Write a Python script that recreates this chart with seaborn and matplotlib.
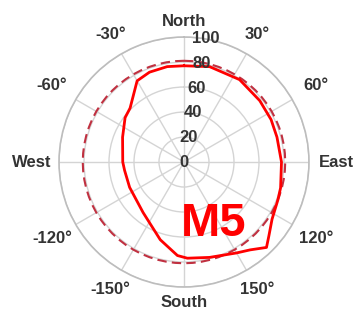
import numpy as np
import matplotlib
matplotlib.use("Agg")
import matplotlib.pyplot as plt
import seaborn as sns
import pandas as pd

# ---- data ----
angles_deg = [0, 15, 34, 51, 64, 75, 90, 105, 112, 123, 131, 136, 143, 150,
              165, 178, 184, 197, 219, 245, 262, 270, 292, 307, 315, 330,
              339, 350, 360]
radius = [77, 79, 79.5, 78, 77.5, 77, 78, 80, 81, 84, 90, 95, 88, 84,
          79, 77, 75, 65, 52, 48, 48, 49, 53, 59, 61, 75,
          77, 77.5, 77]
ref_angles_deg = list(range(0, 361, 5))
ref_radius = [81] * len(ref_angles_deg)

theta_ticks = [0, 30, 60, 90, 120, 150, 180, 210, 240, 270, 300, 330]
theta_labels = ["North", "30°", "60°", "East", "120°", "150°", "South",
                "-150°", "-120°", "West", "-60°", "-30°"]
r_ticks = [0, 20, 40, 60, 80, 100]
panel_label = "M5"

# ---- plot ----
sns.set_style("white")
plt.rcParams['font.family'] = ['Liberation Sans', 'DejaVu Sans']

fig = plt.figure(figsize=(3.6, 3.17), dpi=100)
ax = fig.add_axes([0.1639, 0.0946, 0.6944, 0.7886], projection='polar')
ax.set_theta_zero_location('N')
ax.set_theta_direction(-1)

df = pd.DataFrame({"theta": np.deg2rad(angles_deg), "r": radius})
dref = pd.DataFrame({"theta": np.deg2rad(ref_angles_deg), "r": ref_radius})

sns.lineplot(data=dref, x="theta", y="r", ax=ax, sort=False, color="#c03040",
             linewidth=1.5, linestyle=(0, (4.5, 2.5)))
sns.lineplot(data=df, x="theta", y="r", ax=ax, sort=False, color="#ff0000",
             linewidth=2.0)

ax.set_ylim(0, 100)
ax.set_xticks(np.deg2rad(theta_ticks))
ax.set_xticklabels([])
for t, lab in zip(theta_ticks, theta_labels):
    rr = 112.5 if t in (0, 180) else (117.5 if t in (30, 150, 210, 330) else 122)
    ax.text(np.deg2rad(t), rr, lab, ha='center', va='center', fontsize=12,
            fontweight='bold', color='#333333', clip_on=False)
ax.set_yticks(r_ticks)
ax.set_yticklabels([])
for rv in r_ticks:
    ax.text(np.deg2rad(10), rv, str(rv), ha='center', va='center', fontsize=12,
            fontweight='bold', color='#333333')
ax.set_xlabel("")
ax.set_ylabel("")
ax.grid(True, color='#d4d4d4', linewidth=1.0)
ax.spines['polar'].set_color('#bdbdbd')
ax.spines['polar'].set_linewidth(1.2)

fig.text(214 / 360, 1 - 224 / 317, panel_label, ha='center', va='center',
         fontsize=34, fontweight='bold', color='#ff0000')

fig.savefig("out.png", dpi=100)
